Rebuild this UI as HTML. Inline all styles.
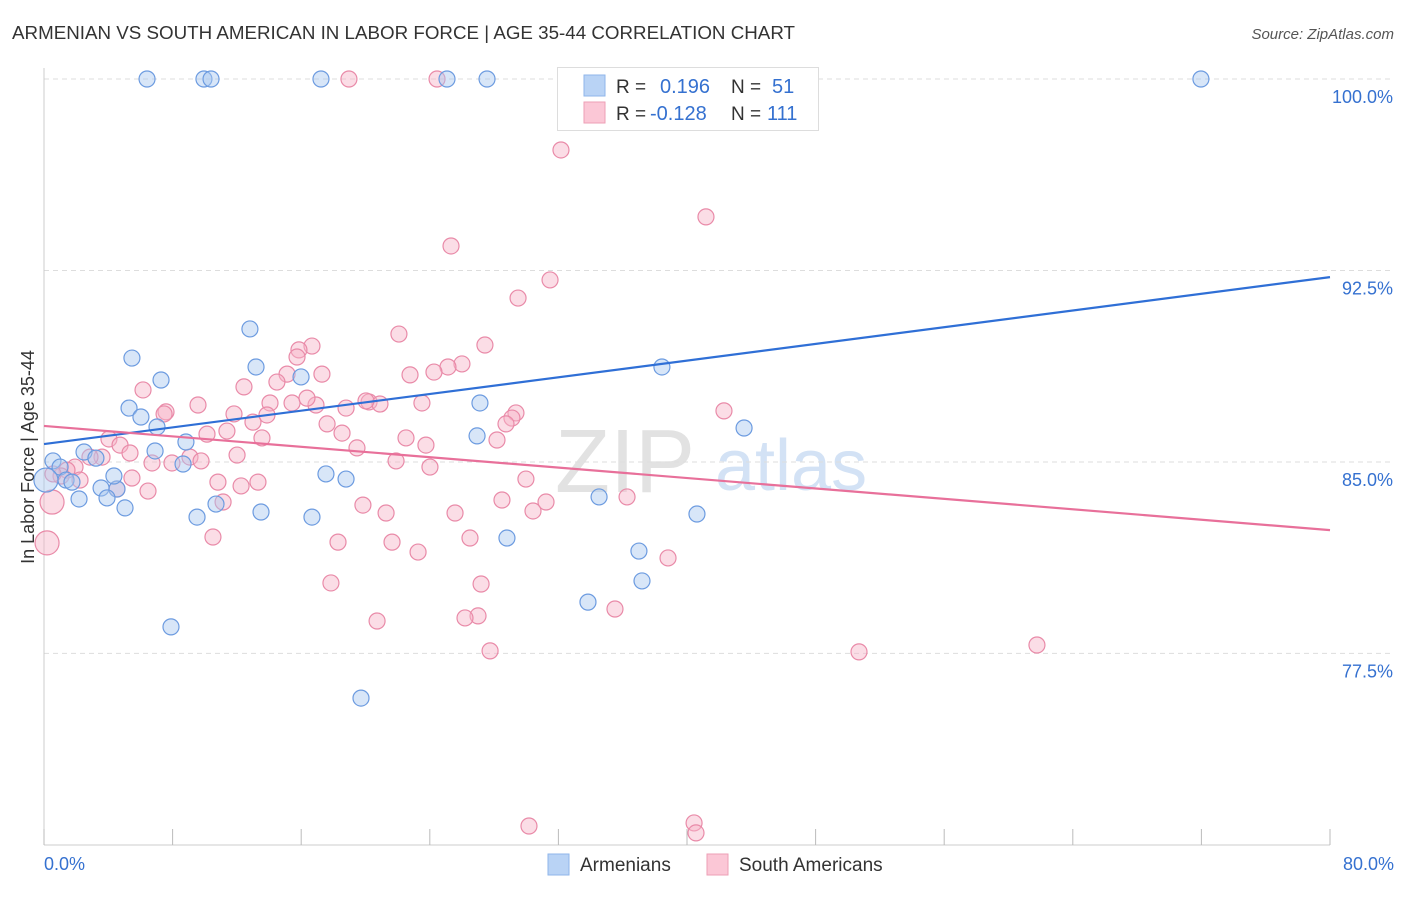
<!DOCTYPE html>
<html><head><meta charset="utf-8"><style>
body{margin:0;background:#fff;font-family:"Liberation Sans",sans-serif;}
svg text{font-family:"Liberation Sans",sans-serif;}
</style></head><body>
<svg id="chart" width="1406" height="892" xmlns="http://www.w3.org/2000/svg">
<text x="12" y="39" font-size="18" fill="#333" textLength="783" lengthAdjust="spacingAndGlyphs">ARMENIAN VS SOUTH AMERICAN IN LABOR FORCE | AGE 35-44 CORRELATION CHART</text>
<text x="1394" y="39" font-size="15" fill="#555" font-style="italic" text-anchor="end">Source: ZipAtlas.com</text>
<text x="555" y="492" font-size="90" fill="#e2e2e2" font-family="Liberation Serif">ZIP</text>
<text x="715" y="490" font-size="72" fill="#d3e2f5">atlas</text>
<g id="grid"></g>
<g id="axes"></g>
<g id="points"></g>
<g id="lines"></g>
<text transform="translate(34,457) rotate(-90)" font-size="18" fill="#333" text-anchor="middle">In Labor Force | Age 35-44</text>
<g>
<rect x="557.5" y="67.5" width="261" height="63" fill="#fff" stroke="#ddd"/>
<rect x="584" y="75" width="21" height="21" fill="#b9d3f5" stroke="#8fb6ea"/>
<rect x="584" y="102" width="21" height="21" fill="#fbc7d6" stroke="#ee9fb6"/>
<text x="616" y="93" font-size="19" fill="#333">R = </text><text x="660" y="93" font-size="20" fill="#3571d0">0.196</text>
<text x="731" y="93" font-size="19" fill="#333">N = </text><text x="772" y="93" font-size="20" fill="#3571d0">51</text>
<text x="616" y="120" font-size="19" fill="#333">R = </text><text x="650" y="120" font-size="20" fill="#3571d0">-0.128</text>
<text x="731" y="120" font-size="19" fill="#333">N = </text><text x="767" y="120" font-size="20" fill="#3571d0">111</text>
</g>
<g>
<rect x="548" y="854" width="21" height="21" fill="#b9d3f5" stroke="#8fb6ea"/>
<text x="580" y="871" font-size="19" fill="#333">Armenians</text>
<rect x="707" y="854" width="21" height="21" fill="#fbc7d6" stroke="#ee9fb6"/>
<text x="739" y="871" font-size="19" fill="#333">South Americans</text>
</g>
</svg>
<script>
const yTicks=[100,92.5,85,77.5];
const yTickLabels=["100.0%","92.5%","85.0%","77.5%"];
const xLabels=["0.0%","80.0%"];
const blueX=[6.41,9.95,10.39,17.23,25.07,27.56,71.97,12.81,5.47,13.19,7.28,15.99,38.44,5.29,6.03,7.03,8.83,27.12,26.94,43.55,2.49,3.23,6.91,8.65,0.56,1.0,1.37,1.74,17.54,18.79,3.55,4.54,4.35,2.18,3.92,5.04,10.70,9.52,13.50,16.67,28.80,34.53,40.62,37.01,37.20,33.84,7.90,19.72,0.12];
const blueY=[100,100,100,100,100,100,100,90.21,89.07,88.72,88.21,88.33,88.72,87.11,86.76,86.37,85.78,87.31,86.02,86.33,85.39,85.15,85.43,84.92,85.04,84.80,84.29,84.21,84.53,84.33,83.98,83.94,84.45,83.55,83.59,83.20,83.35,82.84,83.04,82.84,82.02,83.63,82.96,81.51,80.34,79.51,78.54,75.75,84.29];
const pinkX=[18.97,24.45,32.78,32.16,41.18,25.32,31.48,29.49,22.08,27.43,16.67,15.86,15.74,26.00,25.13,22.77,24.26,17.29,15.12,14.49,12.44,6.16,9.58,7.59,7.47,14.06,15.43,16.92,16.36,20.22,20.90,23.51,18.79,20.03,29.36,29.11,28.74,42.30,11.82,13.87,13.00,17.61,11.38,10.14,18.54,13.56,22.52,28.18,23.76,4.04,4.73,19.47,12.01,9.08,5.35,3.61,2.86,6.72,9.77,7.96,21.90,24.01,1.93,1.43,1.06,0.56,2.24,5.47,10.82,12.26,13.31,4.54,6.47,29.98,11.14,19.84,28.49,31.23,36.27,21.28,25.57,30.42,10.51,18.29,21.65,26.50,23.27,38.82,17.85,27.19,35.52,20.72,27.00,26.19,27.75,50.70,61.77,30.17,40.44,40.56,0.19,0.50];
const pinkY=[100,100,100,97.22,94.60,93.46,92.13,91.42,90.01,89.58,89.54,89.39,89.11,88.84,88.72,88.41,88.52,88.44,88.44,88.13,87.94,87.82,87.23,86.96,86.88,87.31,87.31,87.23,87.50,87.35,87.27,87.31,87.11,87.39,86.92,86.72,86.49,87.00,86.88,86.84,86.56,86.49,86.21,86.09,86.13,85.94,85.94,85.86,85.66,85.90,85.66,85.55,85.27,85.19,85.35,85.19,85.19,84.96,85.04,84.96,85.04,84.80,84.80,84.68,84.45,84.53,84.29,84.37,84.21,84.06,84.21,83.94,83.86,84.33,83.43,83.31,83.51,83.43,83.63,83.00,83.00,83.08,82.06,81.86,81.86,82.02,81.47,81.24,80.26,80.22,79.24,78.77,78.97,78.89,77.60,77.56,77.83,70.74,70.86,70.47,81.83,83.43];
const bigBlue=[48];
const bigPink=[100,101];
const blueLine=[85.70,92.24];
const pinkLine=[86.41,82.33];

const X0=44,X1=1330,Y100=79,PXPER=25.53;
const sx=v=>X0+(v/80)*(X1-X0);
const sy=v=>Y100+(100-v)*PXPER;
const NS="http://www.w3.org/2000/svg";
function mk(t,a,p){const e=document.createElementNS(NS,t);for(const k in a)e.setAttribute(k,a[k]);p.appendChild(e);return e;}
const grid=document.getElementById('grid'),axes=document.getElementById('axes'),pts=document.getElementById('points'),lines=document.getElementById('lines');
yTicks.forEach((t,i)=>{
  const l=mk('line',{x1:X0,x2:1394,y1:sy(t),y2:sy(t),stroke:'#ddd','stroke-dasharray':'5,4'},grid);
  
  
  const tx=mk('text',{x:1393,y:sy(t)+24,'font-size':18,fill:'#3571d0','text-anchor':'end'},axes);
  tx.textContent=yTickLabels[i];
  
  
});
const ax=mk('line',{x1:X0,x2:X0,y1:68,y2:845,stroke:'#ccc'},axes);


const bx=mk('line',{x1:X0,x2:X1,y1:845,y2:845,stroke:'#ccc'},axes);


for(let i=0;i<=10;i++){
  const tk=mk('line',{x1:sx(i*8),x2:sx(i*8),y1:829,y2:845,stroke:'#bbb'},axes);
  
  
}
[[0,'start',44],[80,'end',1394]].forEach((d,i)=>{
  const t=mk('text',{x:d[2],y:870,'font-size':18,fill:'#3571d0','text-anchor':d[1]},axes);
  t.textContent=xLabels[i];
  
  
});
function drawPts(xs,ys,big,fill,stroke,name){
  xs.forEach((x,i)=>{
    const r=big.includes(i)?12:8;
    const c=mk('circle',{cx:sx(x),cy:sy(ys[i]),r:r,fill:fill,'fill-opacity':0.45,stroke:stroke,'stroke-width':1.2},pts);
    
    
  });
}
drawPts(pinkX,pinkY,bigPink,'#f7b3c7','#e98aa8','south-american-point');
drawPts(blueX,blueY,bigBlue,'#a9c8f0','#6c9be0','armenian-point');
const bl=mk('line',{x1:sx(0),y1:sy(blueLine[0]),x2:sx(80),y2:sy(blueLine[1]),stroke:'#2f6fd6','stroke-width':2.2},lines);


const pl=mk('line',{x1:sx(0),y1:sy(pinkLine[0]),x2:sx(80),y2:sy(pinkLine[1]),stroke:'#e8709a','stroke-width':2.2},lines);


</script>
</body></html>
